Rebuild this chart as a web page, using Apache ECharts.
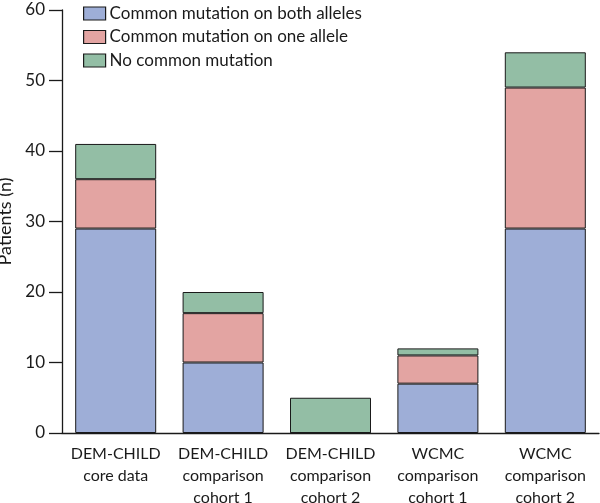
<!DOCTYPE html>
<html>
<head>
<meta charset="utf-8">
<script src="https://cdn.jsdelivr.net/npm/echarts@6/dist/echarts.min.js"></script>
<style>html,body{margin:0;padding:0;background:#fff}#c{width:600px;height:503px}</style>
</head>
<body>
<div id="c"></div>
<script>
const categories = ["DEM-CHILD\ncore data", "DEM-CHILD\ncomparison\ncohort 1", "DEM-CHILD\ncomparison\ncohort 2", "WCMC\ncomparison\ncohort 1", "WCMC\ncomparison\ncohort 2"];
const bothAlleles = [29, 10, 0, 7, 29];
const oneAllele = [7, 7, 0, 4, 20];
const noMutation = [5, 3, 5, 1, 5];
const seriesNames = ["Common mutation on both alleles", "Common mutation on one allele", "No common mutation"];
const yTicks = [0, 10, 20, 30, 40, 50, 60];

const FONT = "Lato";
const colors = ["#9eaed7", "#e3a4a2", "#93bea5"];
const chart = echarts.init(document.getElementById('c'), null, {renderer: 'canvas'});
const mk = (name, data, i) => ({
  name, type: 'bar', stack: 'a', data, barWidth: 81,
  itemStyle: {color: colors[i], borderColor: '#1a1a1a', borderWidth: 1},
  emphasis: {disabled: true}
});
chart.setOption({
  animation: false,
  textStyle: {fontFamily: FONT},
  grid: {left: 62, right: 1, top: 10, bottom: 70, outerBoundsMode: 'none', containLabel: false},
  legend: {
    orient: 'vertical', left: 78, top: 0, icon: 'rect', itemWidth: 22, itemHeight: 13, itemGap: 6.5,
    itemStyle: {borderColor: '#1a1a1a', borderWidth: 1.2},
    textStyle: {fontFamily: FONT, fontSize: 17, color: '#1a1a1a', padding: [0, 0, 0, -1]},
    data: seriesNames
  },
  xAxis: {
    type: 'category', data: categories,
    axisLine: {lineStyle: {color: '#1a1a1a', width: 1.3}},
    axisTick: {length: 10, lineStyle: {color: '#1a1a1a', width: 1.3}},
    axisLabel: {fontFamily: FONT, fontSize: 16, color: '#1a1a1a', lineHeight: 22, margin: 10, interval: 0}
  },
  yAxis: {
    type: 'value', min: 0, max: 60, interval: 10,
    name: 'Patients (n)', nameLocation: 'middle', nameGap: 37,
    nameTextStyle: {fontFamily: FONT, fontSize: 18, color: '#1a1a1a'},
    splitLine: {show: false},
    axisLine: {show: true, lineStyle: {color: '#1a1a1a', width: 1.3}},
    axisTick: {show: true, length: 13, lineStyle: {color: '#1a1a1a', width: 1.3}},
    axisLabel: {fontFamily: FONT, fontSize: 17, color: '#1a1a1a', margin: 17,
      formatter: v => yTicks.includes(v) ? String(v) : ''}
  },
  series: [mk(seriesNames[0], bothAlleles, 0), mk(seriesNames[1], oneAllele, 1), mk(seriesNames[2], noMutation, 2)]
});
</script>
</body>
</html>
